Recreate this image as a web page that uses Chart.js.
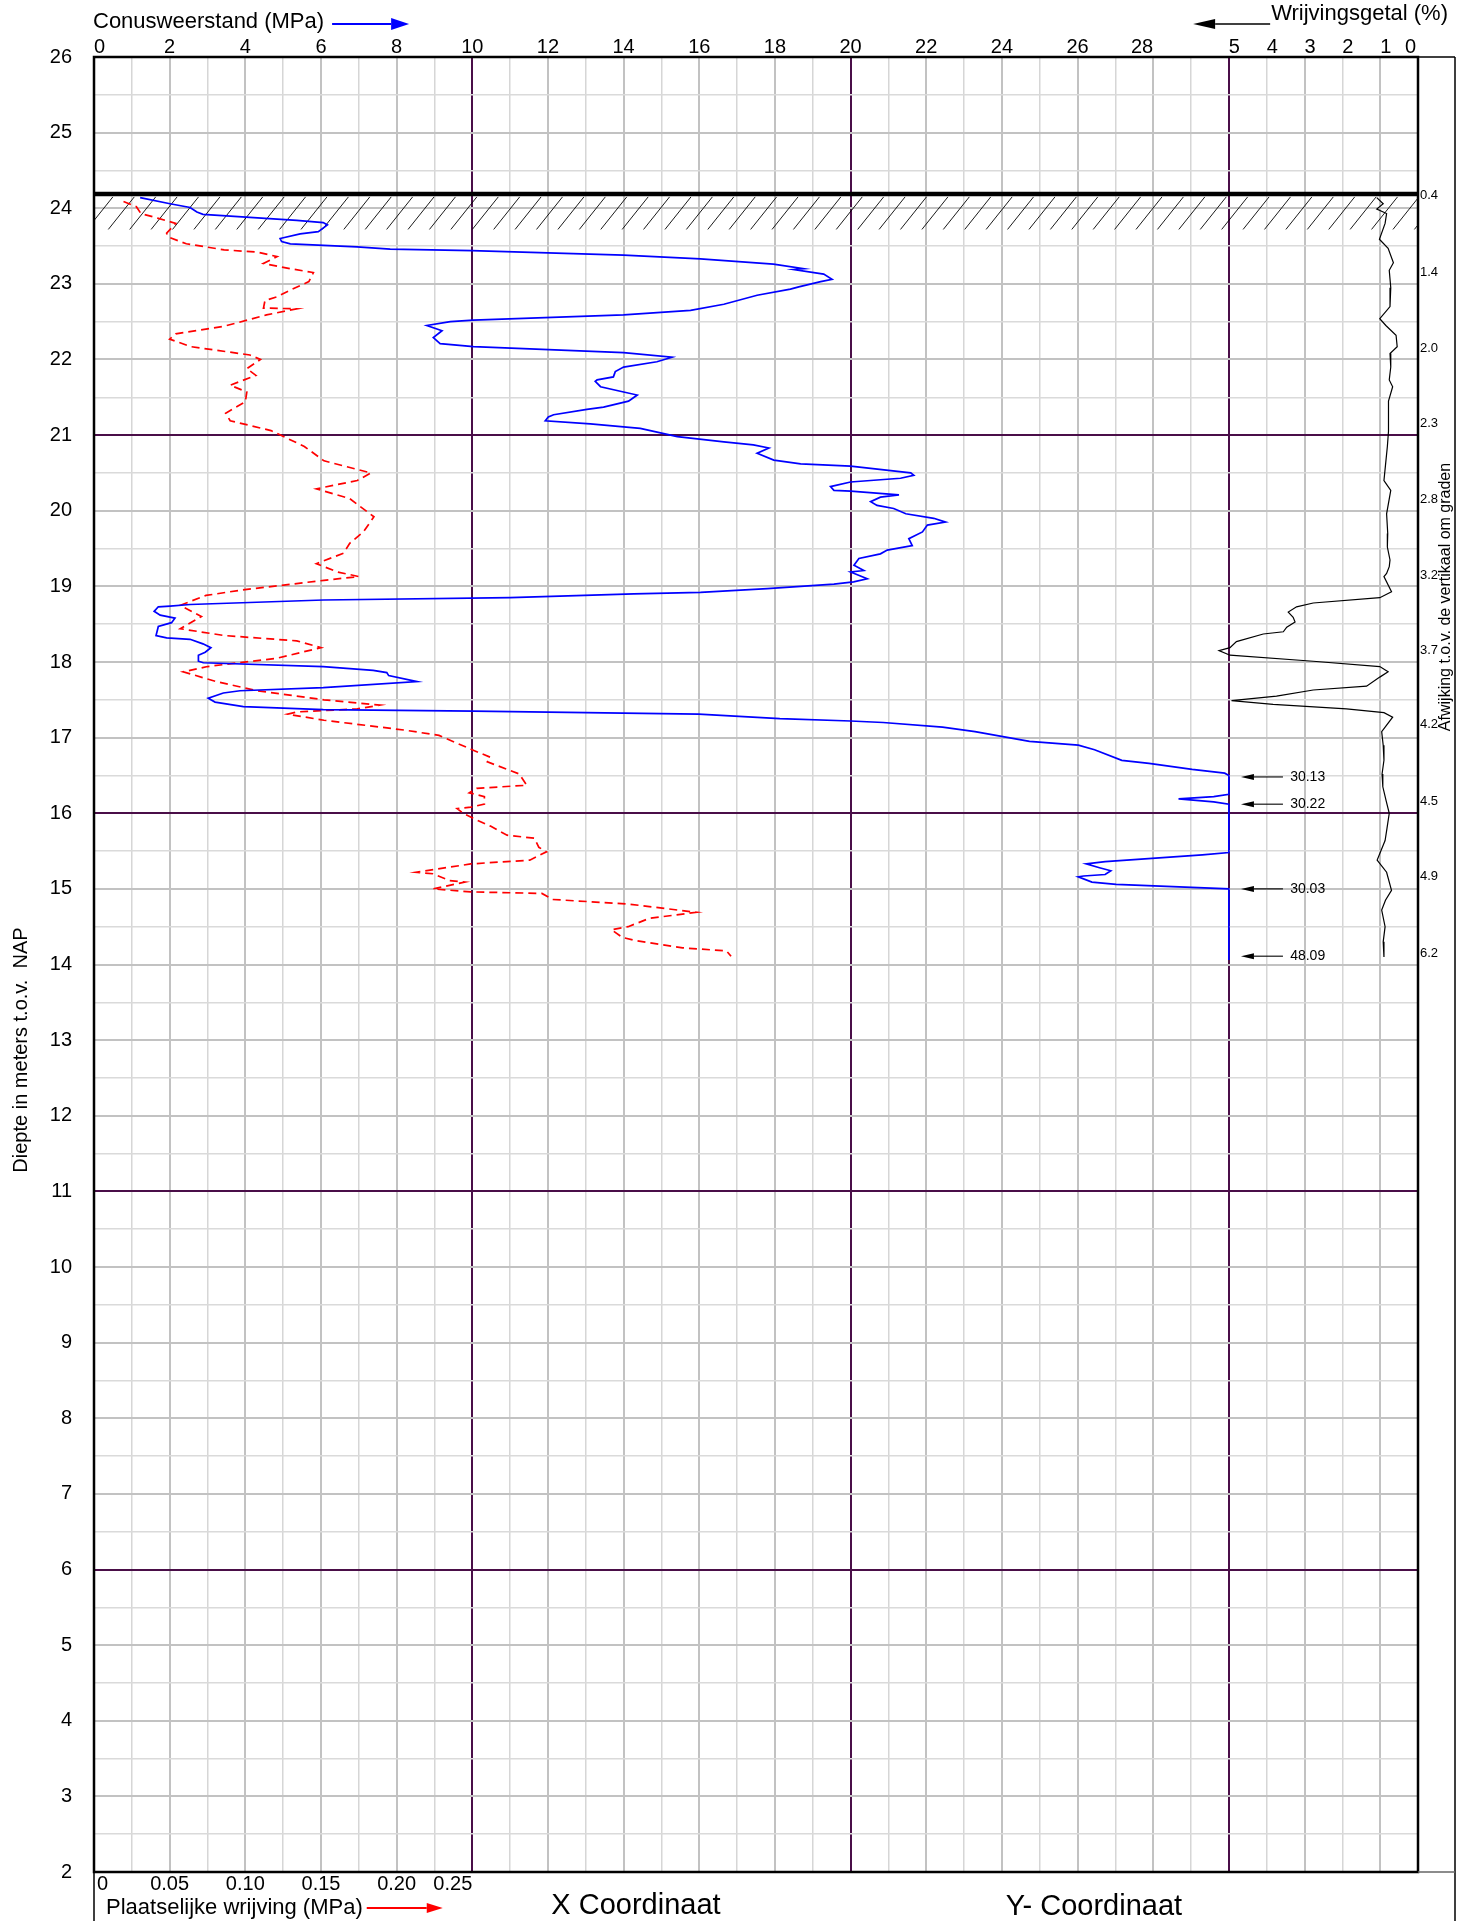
<!DOCTYPE html>
<html><head><meta charset="utf-8">
<script src="https://cdn.jsdelivr.net/npm/chart.js@4.4.1/dist/chart.umd.min.js"></script>
<style>html,body{margin:0;padding:0;background:#fff}canvas{display:block}</style>
</head><body>
<canvas id="c" width="1470" height="1921"></canvas>
<script>
// ---------- tick labels ----------
const DEPTH_TICKS = [2,3,4,5,6,7,8,9,10,11,12,13,14,15,16,17,18,19,20,21,22,23,24,25,26];
const CONE_TICKS = [0,2,4,6,8,10,12,14,16,18,20,22,24,26,28];
const RATIO_TICKS = [5,4,3,2,1,0];
const FRICTION_TICKS = [0,0.05,0.10,0.15,0.20,0.25];
const FRICTION_TICK_LABELS = ['0','0.05','0.10','0.15','0.20','0.25'];
const PURPLE_DEPTHS = [21,16,11,6];
const PURPLE_CONE = [10,20,30];

// ---------- ground / inclination ----------
const GROUND_LEVEL = 24.19;
const HATCH_DEPTH = 0.47;
const INCL_DEPTHS = [24.17,23.15,22.15,21.15,20.15,19.15,18.15,17.17,16.15,15.17,14.15];
const INCL_LABELS = ['0.4','1.4','2.0','2.3','2.8','3.2','3.7','4.2','4.5','4.9','6.2'];
const CLIP_DEPTHS = [16.48,16.12,15.0,14.11];
const CLIP_LABELS = ['30.13','30.22','30.03','48.09'];

// ---------- Conusweerstand (MPa) ----------
const coneDepth = [24.14,24.06,24.01,23.95,23.92,23.84,23.81,23.78,23.69,23.66,23.60,23.56,23.53,23.49,23.46,23.44,23.38,23.33,23.26,23.20,23.19,23.13,23.06,23.03,22.96,22.93,22.85,22.73,22.65,22.59,22.52,22.50,22.45,22.38,22.29,22.21,22.17,22.09,22.03,21.97,21.90,21.84,21.77,21.73,21.71,21.64,21.57,21.53,21.45,21.37,21.34,21.27,21.24,21.19,21.15,21.09,20.98,20.91,20.87,20.83,20.76,20.67,20.62,20.59,20.50,20.47,20.43,20.38,20.32,20.27,20.26,20.21,20.18,20.12,20.07,20.03,19.96,19.90,19.85,19.81,19.72,19.63,19.54,19.48,19.43,19.37,19.28,19.21,19.19,19.10,19.06,19.03,18.97,18.92,18.90,18.85,18.82,18.76,18.74,18.73,18.67,18.62,18.58,18.52,18.47,18.35,18.32,18.30,18.24,18.19,18.13,18.09,18.01,17.99,17.94,17.89,17.86,17.82,17.74,17.66,17.62,17.59,17.52,17.47,17.41,17.37,17.35,17.31,17.25,17.22,17.20,17.14,17.08,16.95,16.90,16.84,16.70,16.66,16.58,16.53,16.50,16.25,16.22,16.19,16.15,16.12,15.48,15.45,15.36,15.33,15.28,15.24,15.19,15.17,15.16,15.09,15.06,15.00,14.06];
const coneQc = [1.22,2.01,2.54,2.72,2.88,5.36,6.06,6.17,5.93,5.45,4.92,4.96,5.19,6.95,7.83,9.99,14.0,16.03,17.96,18.76,18.5,19.29,19.51,19.21,18.63,18.41,17.53,16.65,15.77,14.0,10.03,9.42,8.80,9.2,8.97,9.15,10.03,14.0,15.28,14.88,14.0,13.78,13.73,13.30,13.25,13.39,14.0,14.36,14.13,13.47,13.03,12.15,12.01,11.93,13.12,14.44,15.42,16.65,17.43,17.84,17.53,17.97,18.68,20.0,21.59,21.67,21.32,20.0,19.47,19.56,20.0,21.28,20.79,20.53,20.7,21.14,21.46,22.2,22.51,22.03,21.9,21.54,21.63,20.97,20.79,20.22,20.09,20.35,20.0,20.44,20.08,19.56,17.8,16.03,14.27,11.0,6.07,2.54,2.01,1.70,1.59,1.75,2.14,2.05,1.70,1.64,1.92,2.54,2.88,3.09,2.94,2.76,2.76,2.89,6.06,7.38,7.74,7.79,8.54,6.06,3.86,3.42,3.02,3.2,3.95,6.06,10.03,15.98,18.13,20.0,20.86,22.43,23.29,24.73,26.02,26.45,27.17,27.89,29.03,29.89,30.0,30.0,29.6,28.67,29.6,30.0,30.0,29.3,26.73,26.23,26.58,26.88,26.73,26.16,26.02,26.38,27.02,30.0,30.0];

// ---------- Plaatselijke wrijving (MPa) ----------
const frDepth = [24.09,24.02,23.93,23.87,23.80,23.67,23.62,23.53,23.45,23.42,23.36,23.27,23.20,23.15,23.03,22.92,22.83,22.78,22.68,22.67,22.59,22.53,22.44,22.34,22.27,22.17,22.06,22.00,21.88,21.79,21.66,21.57,21.44,21.29,21.19,21.06,20.85,20.66,20.50,20.40,20.29,20.16,19.92,19.72,19.57,19.44,19.30,19.19,19.13,19.08,18.95,18.88,18.75,18.60,18.44,18.35,18.28,18.19,18.05,17.94,17.87,17.74,17.62,17.50,17.43,17.38,17.34,17.31,17.23,17.10,17.03,16.83,16.74,16.68,16.52,16.37,16.33,16.27,16.22,16.12,16.08,16.06,16.00,15.91,15.83,15.71,15.67,15.55,15.49,15.38,15.33,15.22,15.20,15.11,15.09,15.00,14.96,14.94,14.86,14.80,14.69,14.61,14.50,14.46,14.36,14.32,14.22,14.18,14.11];
const frValue = [0.0195,0.028,0.031,0.042,0.054,0.048,0.049,0.061,0.086,0.108,0.121,0.112,0.130,0.145,0.142,0.130,0.121,0.113,0.112,0.134,0.114,0.103,0.086,0.054,0.050,0.064,0.103,0.110,0.101,0.107,0.090,0.101,0.100,0.087,0.090,0.117,0.139,0.152,0.183,0.174,0.147,0.169,0.185,0.178,0.169,0.165,0.147,0.161,0.175,0.152,0.097,0.074,0.057,0.071,0.057,0.086,0.134,0.150,0.121,0.075,0.059,0.081,0.108,0.152,0.189,0.174,0.134,0.128,0.152,0.205,0.228,0.251,0.262,0.260,0.281,0.286,0.253,0.248,0.258,0.258,0.249,0.240,0.244,0.253,0.262,0.273,0.291,0.294,0.299,0.288,0.249,0.213,0.224,0.235,0.245,0.224,0.249,0.296,0.303,0.353,0.398,0.367,0.353,0.342,0.349,0.357,0.389,0.418,0.421];

// ---------- Wrijvingsgetal (%) ----------
const rfDepth = [24.14,24.06,23.99,23.93,23.80,23.59,23.47,23.28,23.18,22.95,22.70,22.54,22.45,22.32,22.17,22.08,21.90,21.73,21.64,21.45,21.29,21.05,20.85,20.60,20.40,20.27,19.96,19.70,19.52,19.35,19.26,19.17,19.13,18.93,18.85,18.78,18.73,18.66,18.59,18.53,18.46,18.40,18.37,18.27,18.19,18.15,18.09,18.01,17.94,17.87,17.80,17.68,17.63,17.55,17.49,17.44,17.38,17.33,17.27,17.08,16.90,16.70,16.52,16.35,16.16,16.00,15.80,15.64,15.38,15.22,14.98,14.85,14.72,14.50,14.30,14.10];
const rfValue = [1.09,0.92,1.09,0.83,0.87,1.02,0.79,0.65,0.76,0.72,0.74,1.01,0.85,0.58,0.55,0.74,0.72,0.76,0.67,0.78,0.79,0.77,0.81,0.86,0.90,0.72,0.83,0.80,0.81,0.74,0.76,0.83,0.90,0.70,1.01,2.77,3.21,3.43,3.30,3.25,3.47,3.56,4.09,4.80,4.97,5.26,4.97,2.77,1.01,0.79,1.01,1.36,2.77,3.74,4.93,3.83,1.89,0.90,0.67,0.96,0.92,0.90,0.95,0.93,0.84,0.76,0.82,0.87,1.08,0.83,0.70,0.86,0.96,0.87,0.92,0.90];

const FONT = '"Liberation Sans", Arial, sans-serif';
const PURPLE = '#4a0e48';

function arrow(ctx, xFrom, xTip, y, color, hl, hh, lw) {
  const dir = Math.sign(xTip - xFrom);
  ctx.save();
  ctx.strokeStyle = color; ctx.fillStyle = color; ctx.lineWidth = lw || 1.5;
  ctx.beginPath(); ctx.moveTo(xFrom, y); ctx.lineTo(xTip - dir*hl, y); ctx.stroke();
  ctx.beginPath(); ctx.moveTo(xTip, y); ctx.lineTo(xTip - dir*hl, y - hh/2); ctx.lineTo(xTip - dir*hl, y + hh/2); ctx.closePath(); ctx.fill();
  ctx.restore();
}

const hatchPlugin = {
  id: 'hatch',
  beforeDatasetsDraw(chart) {
    const {ctx, chartArea: a, scales: {x, y}} = chart;
    const yG = y.getPixelForValue(GROUND_LEVEL);
    const yB = y.getPixelForValue(GROUND_LEVEL - HATCH_DEPTH);
    ctx.save();
    ctx.beginPath(); ctx.rect(a.left, yG, a.right - a.left, yB - yG + 1); ctx.clip();
    ctx.strokeStyle = '#000'; ctx.lineWidth = 0.9;
    const step = (x.getPixelForValue(1) - x.getPixelForValue(0)) * 0.566;
    const anchor = x.getPixelForValue(10);
    let start = anchor - Math.ceil((anchor - a.left + 40) / step) * step;
    for (let xb = start; xb < a.right + 10; xb += step) {
      ctx.beginPath(); ctx.moveTo(xb, yB); ctx.lineTo(xb + 26, yG + 3); ctx.stroke();
    }
    ctx.restore();
  }
};

const decoPlugin = {
  id: 'deco',
  afterDraw(chart) {
    const {ctx, chartArea: a, scales: {x, y, xf, xr}} = chart;
    const H = chart.height;
    const panelR = a.right + 37;
    ctx.save();
    // ground line
    const yG = y.getPixelForValue(GROUND_LEVEL);
    ctx.strokeStyle = '#000'; ctx.lineWidth = 4.5;
    ctx.beginPath(); ctx.moveTo(a.left, yG); ctx.lineTo(a.right, yG); ctx.stroke();
    // frame
    ctx.lineWidth = 2.5;
    ctx.strokeRect(a.left, a.top, a.right - a.left, a.bottom - a.top);
    ctx.lineWidth = 1.5;
    ctx.beginPath();
    ctx.moveTo(a.right, a.top); ctx.lineTo(panelR, a.top);
    ctx.moveTo(panelR, a.top); ctx.lineTo(panelR, H);
    ctx.moveTo(a.left, a.bottom); ctx.lineTo(a.left, H);
    ctx.stroke();
    ctx.strokeStyle = '#666'; ctx.lineWidth = 1.5;
    ctx.beginPath(); ctx.moveTo(a.right, a.bottom); ctx.lineTo(panelR, a.bottom); ctx.stroke();

    ctx.fillStyle = '#000';
    // depth ticks
    ctx.font = '20px ' + FONT; ctx.textBaseline = 'middle'; ctx.textAlign = 'right';
    DEPTH_TICKS.forEach(v => ctx.fillText(String(v), a.left - 22, y.getPixelForValue(v)));
    // top cone ticks
    const ty = a.top - 10;
    CONE_TICKS.forEach(v => {
      ctx.textAlign = v === 0 ? 'left' : (v === 28 ? 'right' : 'center');
      ctx.fillText(String(v), x.getPixelForValue(v) + (v === 0 ? 0 : 0), ty);
    });
    // ratio ticks
    RATIO_TICKS.forEach(v => {
      ctx.textAlign = v === 0 ? 'right' : 'left';
      ctx.fillText(String(v), xr.getPixelForValue(v) + (v === 0 ? -2 : 0), ty);
    });
    // bottom friction ticks
    const by = a.bottom + 12;
    FRICTION_TICKS.forEach((v, i) => {
      ctx.textAlign = i === 0 ? 'left' : (i === FRICTION_TICKS.length - 1 ? 'right' : 'center');
      ctx.fillText(FRICTION_TICK_LABELS[i], xf.getPixelForValue(v) + (i === 0 ? 3 : 0), by);
    });
    // titles
    ctx.font = '22px ' + FONT; ctx.textAlign = 'left';
    const t1 = 'Conusweerstand (MPa)';
    ctx.fillText(t1, a.left - 1, 22);
    const w1 = ctx.measureText(t1).width;
    arrow(ctx, a.left - 1 + w1 + 8, a.left - 1 + w1 + 85, 24, '#0000ff', 18, 12, 1.8);

    const t2 = 'Wrijvingsgetal (%)';
    ctx.textAlign = 'right';
    ctx.fillText(t2, panelR - 7, 14);
    const w2 = ctx.measureText(t2).width;
    arrow(ctx, panelR - 7 - w2 - 1, panelR - 7 - w2 - 78, 24, '#000', 22, 10, 1.5);

    ctx.textAlign = 'left';
    const t3 = 'Plaatselijke wrijving (MPa)';
    ctx.fillText(t3, a.left + 12, 1908);
    const w3 = ctx.measureText(t3).width;
    arrow(ctx, a.left + 12 + w3 + 4, a.left + 12 + w3 + 80, 1908, '#ff0000', 16, 10, 1.8);

    ctx.font = '29px ' + FONT; ctx.textAlign = 'center';
    ctx.fillText('X Coordinaat', 636, 1906);
    ctx.fillText('Y- Coordinaat', 1094, 1907);

    // y title
    ctx.save();
    ctx.font = '20px ' + FONT;
    ctx.translate(21, 1050); ctx.rotate(-Math.PI/2);
    ctx.textAlign = 'center'; ctx.fillText('Diepte in meters t.o.v.  NAP', 0, 0);
    ctx.restore();
    // right panel title
    ctx.save();
    ctx.font = '16px ' + FONT;
    ctx.translate(panelR - 9, 597); ctx.rotate(-Math.PI/2);
    ctx.textAlign = 'center'; ctx.fillText('Afwijking t.o.v. de vertikaal om graden', 0, 0);
    ctx.restore();
    // inclination values
    ctx.font = '13px ' + FONT; ctx.textAlign = 'left';
    INCL_DEPTHS.forEach((d, i) => ctx.fillText(INCL_LABELS[i], a.right + 2, y.getPixelForValue(d)));
    // clipped values
    ctx.font = '14px ' + FONT;
    CLIP_DEPTHS.forEach((d, i) => {
      const yy = y.getPixelForValue(d);
      const xTip = x.getPixelForValue(30.32);
      const xEnd = x.getPixelForValue(31.43);
      arrow(ctx, xEnd, xTip, yy, '#000', 13, 6, 1.1);
      ctx.fillText(CLIP_LABELS[i], x.getPixelForValue(31.62), yy);
    });
    ctx.restore();
  }
};

const gridColorX = c => {
  const v = c.tick.value;
  if (v === 0 || v === 35) return 'rgba(0,0,0,0)';
  if (PURPLE_CONE.includes(v)) return PURPLE;
  return v % 2 === 0 ? '#c2c2c2' : '#d6d6d6';
};
const gridWidthX = c => {
  const v = c.tick.value;
  if (PURPLE_CONE.includes(v)) return 2;
  return v % 2 === 0 ? 2 : 1.5;
};
const gridColorY = c => {
  const v = c.tick.value;
  if (v === 2 || v === 26) return 'rgba(0,0,0,0)';
  if (PURPLE_DEPTHS.includes(v)) return PURPLE;
  return Number.isInteger(v) ? '#c2c2c2' : '#dadada';
};
const gridWidthY = c => {
  const v = c.tick.value;
  if (PURPLE_DEPTHS.includes(v)) return 2;
  return Number.isInteger(v) ? 2 : 1.5;
};

new Chart(document.getElementById('c'), {
  type: 'scatter',
  data: {
    datasets: [
      { label: 'Conusweerstand', data: coneDepth.map((d, i) => ({x: coneQc[i], y: d})),
        xAxisID: 'x', yAxisID: 'y', showLine: true, borderColor: '#0000ff', borderWidth: 1.7,
        pointRadius: 0, tension: 0, fill: false },
      { label: 'Plaatselijke wrijving', data: frDepth.map((d, i) => ({x: frValue[i], y: d})),
        xAxisID: 'xf', yAxisID: 'y', showLine: true, borderColor: '#ff0000', borderWidth: 1.7,
        borderDash: [8, 5], pointRadius: 0, tension: 0, fill: false },
      { label: 'Wrijvingsgetal', data: rfDepth.map((d, i) => ({x: rfValue[i], y: d})),
        xAxisID: 'xr', yAxisID: 'y', showLine: true, borderColor: '#000000', borderWidth: 1.2,
        pointRadius: 0, tension: 0, fill: false }
    ]
  },
  options: {
    responsive: false, animation: false, devicePixelRatio: 1,
    layout: { padding: { left: 94, top: 57, right: 52, bottom: 49 } },
    plugins: { legend: { display: false }, tooltip: { enabled: false } },
    scales: {
      x: { type: 'linear', position: 'bottom', min: 0, max: 35,
           afterFit(s) { s.height = 0; },
           ticks: { display: false, stepSize: 1, maxTicksLimit: 100 },
           grid: { drawTicks: false, color: gridColorX, lineWidth: gridWidthX },
           border: { display: false } },
      y: { type: 'linear', position: 'left', min: 2, max: 26,
           afterFit(s) { s.width = 0; },
           ticks: { display: false, stepSize: 0.5, maxTicksLimit: 100 },
           grid: { drawTicks: false, color: gridColorY, lineWidth: gridWidthY },
           border: { display: false } },
      xf: { type: 'linear', min: 0, max: 0.875, display: false },
      xr: { type: 'linear', min: 0, max: 35, reverse: true, display: false }
    }
  },
  plugins: [hatchPlugin, decoPlugin]
});
</script>
</body></html>
